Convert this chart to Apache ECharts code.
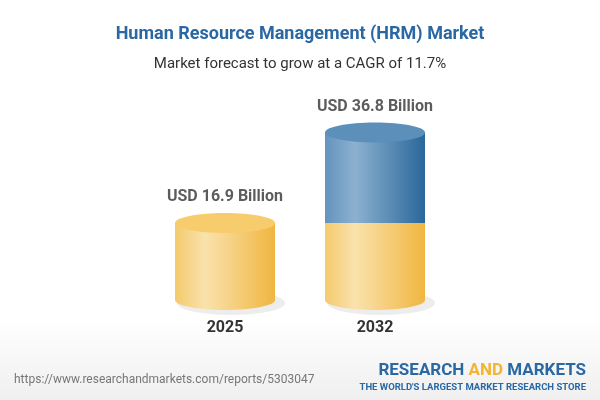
<!DOCTYPE html>
<html>
<head>
<meta charset="utf-8">
<script src="https://cdn.jsdelivr.net/npm/echarts@6/dist/echarts.min.js"></script>
<style>
  html, body { margin: 0; padding: 0; }
  #chart { width: 600px; height: 400px; }
</style>
</head>
<body>
<div id="chart"></div>
<script>
var years = ['2025', '2032'];
var baseValues = [16.9, 16.9];
var growthValues = [0, 19.9];
var totalLabels = ['USD 16.9 Billion', 'USD 36.8 Billion'];

var chart = echarts.init(document.getElementById('chart'));

function grad(c0, c1, c2) {
  return new echarts.graphic.LinearGradient(0, 0, 1, 0, [
    { offset: 0, color: c0 },
    { offset: 0.3, color: c1 },
    { offset: 1, color: c2 }
  ]);
}

// draws one cylinder segment from start to end value
function cylinder(from, to, body, top, showTop, showBottom, shadow) {
  return function (params, api) {
    var idx = api.value(0);
    var lo = api.coord([idx, from(idx)]);
    var hi = api.coord([idx, to(idx)]);
    var w = 100, ry = 10;
    var x = lo[0] - w / 2;
    if (hi[1] >= lo[1]) return;
    var kids = [];
    if (shadow) {
      kids.push({ type: 'ellipse', shape: { cx: lo[0] + 6, cy: lo[1] + 3, rx: w / 2 + 4, ry: ry + 2 },
        style: { fill: 'rgba(0,0,0,0.07)' } });
    }
    if (showBottom) {
      kids.push({ type: 'ellipse', shape: { cx: lo[0], cy: lo[1], rx: w / 2, ry: ry }, style: { fill: body } });
    }
    kids.push({ type: 'rect', shape: { x: x, y: hi[1], width: w, height: lo[1] - hi[1] }, style: { fill: body } });
    if (showTop(idx)) {
      kids.push({ type: 'ellipse', shape: { cx: hi[0], cy: hi[1], rx: w / 2, ry: ry }, style: { fill: top } });
    }
    return { type: 'group', children: kids };
  };
}

var yellow = grad('#f4ca6c', '#fae2ad', '#f0b640');
var blue = grad('#6493bd', '#8cb1cf', '#2a679b');

var option = {
  backgroundColor: new echarts.graphic.LinearGradient(0, 0, 0, 1, [
    { offset: 0, color: '#ffffff' },
    { offset: 0.8, color: '#ffffff' },
    { offset: 1, color: '#efefef' }
  ]),
  title: [
    {
      text: 'Human Resource Management (HRM) Market',
      left: 'center', top: 20,
      textStyle: { color: '#2a68a4', fontSize: 18, fontWeight: 'bold', fontFamily: 'Roboto' }
    },
    {
      text: 'Market forecast to grow at a CAGR of 11.7%',
      left: 'center', top: 52,
      textStyle: { color: '#333', fontSize: 15, fontWeight: 'normal', fontFamily: 'Roboto' }
    }
  ],
  grid: { left: 150, right: 150, top: 118, bottom: 100 },
  xAxis: {
    type: 'category',
    data: years,
    axisLine: { show: false },
    axisTick: { show: false },
    axisLabel: { color: '#333', fontSize: 16, fontWeight: 'bold', fontFamily: 'Roboto', margin: 20 }
  },
  yAxis: { type: 'value', min: 0, max: 40, show: false },
  series: [
    {
      type: 'custom',
      data: years.map(function (y, i) { return [i, baseValues[i]]; }),
      renderItem: cylinder(
        function () { return 0; },
        function (i) { return baseValues[i]; },
        yellow, '#f6cc6c', function (i) { return growthValues[i] === 0; }, true, true)
    },
    {
      type: 'custom',
      data: years.map(function (y, i) { return [i, baseValues[i] + growthValues[i]]; }),
      renderItem: cylinder(
        function (i) { return baseValues[i]; },
        function (i) { return baseValues[i] + growthValues[i]; },
        blue, '#5d8fbb', function () { return true; }, false, false)
    },
    {
      type: 'scatter',
      symbolSize: 0,
      data: years.map(function (y, i) { return [i, baseValues[i] + growthValues[i]]; }),
      label: {
        show: true, position: 'top', distance: 18,
        color: '#333', fontSize: 16, fontWeight: 'bold', fontFamily: 'Roboto',
        formatter: function (p) { return totalLabels[p.dataIndex]; }
      }
    }
  ],
  graphic: [
    { type: 'text', left: 14, top: 374,
      style: { text: 'https://www.researchandmarkets.com/reports/5303047', fill: '#777', font: '12px Roboto' } },
    { type: 'text', right: 14, top: 362,
      style: { rich: { a: { fill: '#2a68a4', font: 'bold 17px Roboto' }, b: { fill: '#f3b52f', font: 'bold 17px Roboto' } },
        text: '{a|RESEARCH }{b|AND}{a| MARKETS}' } },
    { type: 'text', right: 14, top: 383,
      style: { text: "THE WORLD'S LARGEST MARKET RESEARCH STORE", fill: '#2a68a4', font: 'bold 9.5px Roboto' } }
  ]
};

chart.setOption(option);
</script>
</body>
</html>
